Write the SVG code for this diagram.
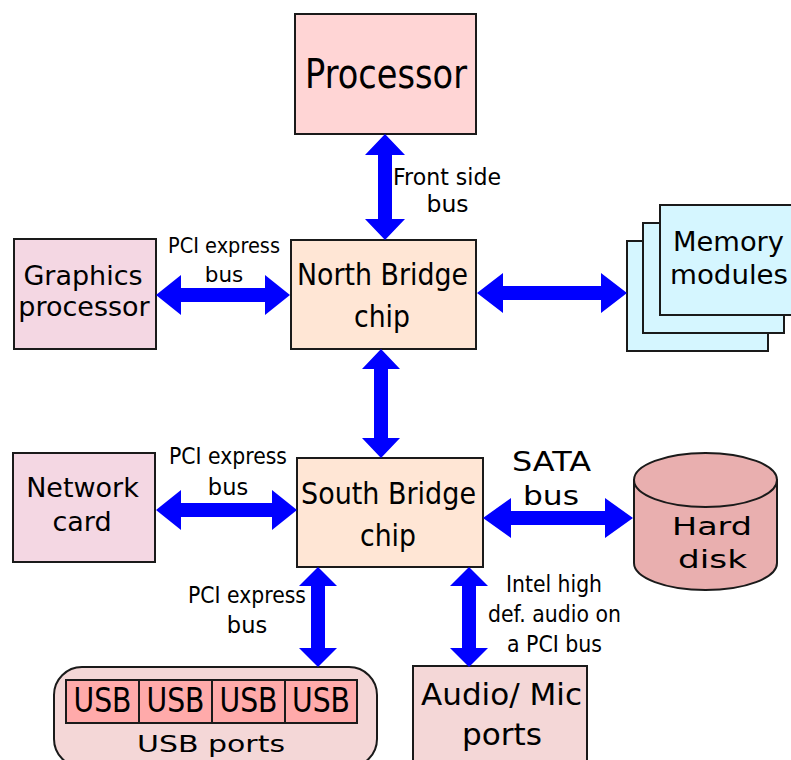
<svg xmlns="http://www.w3.org/2000/svg" width="791" height="760" viewBox="0 0 791 760">
<style>
.box{stroke:#1a1a1a;stroke-width:2}
.c{font-family:"DejaVu Sans",sans-serif;text-anchor:middle;fill:#000}
.arr{fill:#0000ff;stroke:none}
</style>
<rect width="791" height="760" fill="#fff"/>
<g id="processor">
<rect class="box" x="295" y="14" width="181" height="120" fill="#ffd5d5"/>
<text class="c" x="386" y="88" font-size="41" textLength="162" lengthAdjust="spacingAndGlyphs">Processor</text>
</g>
<g id="northbridge">
<rect class="box" x="291" y="240" width="185" height="109" fill="#ffe6d5"/>
<text class="c" x="382.5" y="285" font-size="31" textLength="171" lengthAdjust="spacingAndGlyphs">North Bridge</text>
<text class="c" x="382" y="327" font-size="31" textLength="56" lengthAdjust="spacingAndGlyphs">chip</text>
</g>
<g id="graphics">
<rect class="box" x="14" y="239" width="142" height="110" fill="#f4d7e3"/>
<text class="c" x="83" y="285" font-size="27">Graphics</text>
<text class="c" x="84" y="316" font-size="27">processor</text>
</g>
<g id="memory">
<rect class="box" x="627" y="241" width="141" height="110" fill="#d5f6ff"/>
<rect class="box" x="643" y="223" width="141" height="110" fill="#d5f6ff"/>
<rect class="box" x="660" y="205" width="140" height="110" fill="#d5f6ff"/>
<text class="c" x="728.5" y="251" font-size="26" textLength="111" lengthAdjust="spacingAndGlyphs">Memory</text>
<text class="c" x="729" y="284" font-size="26" textLength="118" lengthAdjust="spacingAndGlyphs">modules</text>
</g>
<g id="southbridge">
<rect class="box" x="297" y="458" width="186" height="109" fill="#ffe6d5"/>
<text class="c" x="388.5" y="504" font-size="31" textLength="175" lengthAdjust="spacingAndGlyphs">South Bridge</text>
<text class="c" x="388" y="546" font-size="31" textLength="56" lengthAdjust="spacingAndGlyphs">chip</text>
</g>
<g id="network">
<rect class="box" x="13" y="453" width="142" height="109" fill="#f4d7e3"/>
<text class="c" x="82.5" y="497" font-size="27">Network</text>
<text class="c" x="82" y="531" font-size="27">card</text>
</g>
<g id="harddisk">
<path class="box" d="M634,480 L634,563 A71.5,27 0 0 0 777,563 L777,480 Z" fill="#e9afaf" stroke-width="2.5"/>
<ellipse class="box" cx="705.5" cy="480" rx="71.5" ry="27" fill="#e9afaf" stroke-width="2.5"/>
<text class="c" x="712" y="535" font-size="25" textLength="80" lengthAdjust="spacingAndGlyphs">Hard</text>
<text class="c" x="712.5" y="568" font-size="25" textLength="69" lengthAdjust="spacingAndGlyphs">disk</text>
</g>
<g id="usbports">
<rect class="box" x="54" y="667" width="323" height="100" rx="28" fill="#f4d7d7"/>
<rect class="box" x="66" y="680" width="73" height="43" fill="#ffaaaa"/>
<rect class="box" x="139" y="680" width="73" height="43" fill="#ffaaaa"/>
<rect class="box" x="212" y="680" width="73" height="43" fill="#ffaaaa"/>
<rect class="box" x="285" y="680" width="72" height="43" fill="#ffaaaa"/>
<text class="c" x="102.5" y="712" font-size="33" textLength="58" lengthAdjust="spacingAndGlyphs">USB</text>
<text class="c" x="175.5" y="712" font-size="33" textLength="58" lengthAdjust="spacingAndGlyphs">USB</text>
<text class="c" x="248.5" y="712" font-size="33" textLength="58" lengthAdjust="spacingAndGlyphs">USB</text>
<text class="c" x="321" y="712" font-size="33" textLength="58" lengthAdjust="spacingAndGlyphs">USB</text>
<text class="c" x="211" y="752" font-size="23" textLength="148" lengthAdjust="spacingAndGlyphs">USB ports</text>
</g>
<g id="audio">
<rect class="box" x="413" y="666" width="174" height="100" fill="#f4d7d7"/>
<text class="c" x="501.5" y="705" font-size="30" textLength="161" lengthAdjust="spacingAndGlyphs">Audio/ Mic</text>
<text class="c" x="502" y="745" font-size="30" textLength="80" lengthAdjust="spacingAndGlyphs">ports</text>
</g>
<g id="connectors">
<path class="arr" d="M385,134 L405,155 L392,155 L392,219 L405,219 L385,240 L365,219 L378,219 L378,155 L365,155 Z"/>
<path class="arr" d="M156,295 L181,275 L181,288 L265,288 L265,275 L290,295 L265,315 L265,302 L181,302 L181,315 Z"/>
<path class="arr" d="M477,293 L503,273 L503,286 L601,286 L601,273 L627,293 L601,313 L601,300 L503,300 L503,313 Z"/>
<path class="arr" d="M381,349 L400,369 L388,369 L388,438 L400,438 L381,458 L362,438 L374,438 L374,369 L362,369 Z"/>
<path class="arr" d="M156,510 L181,490 L181,503 L272,503 L272,490 L297,510 L272,530 L272,517 L181,517 L181,530 Z"/>
<path class="arr" d="M483,518 L511,498 L511,511 L605,511 L605,498 L633,518 L605,538 L605,525 L511,525 L511,538 Z"/>
<path class="arr" d="M318,567 L337,586 L325,586 L325,648 L337,648 L318,667 L299,648 L311,648 L311,586 L299,586 Z"/>
<path class="arr" d="M469,567 L488,586 L476,586 L476,648 L488,648 L469,667 L450,648 L462,648 L462,586 L450,586 Z"/>
</g>
<g id="labels">
<text class="c" x="447" y="185" font-size="23.5" textLength="108" lengthAdjust="spacingAndGlyphs">Front side</text>
<text class="c" x="447.5" y="212" font-size="23.5">bus</text>
<text class="c" x="224" y="253" font-size="21.5" textLength="112" lengthAdjust="spacingAndGlyphs">PCI express</text>
<text class="c" x="224" y="282" font-size="21.5">bus</text>
<text class="c" x="228" y="464" font-size="22.5" textLength="118" lengthAdjust="spacingAndGlyphs">PCI express</text>
<text class="c" x="228" y="495" font-size="22.5">bus</text>
<text class="c" x="551.5" y="471" font-size="26" textLength="79" lengthAdjust="spacingAndGlyphs">SATA</text>
<text class="c" x="551" y="505" font-size="26" textLength="56" lengthAdjust="spacingAndGlyphs">bus</text>
<text class="c" x="247" y="603" font-size="22.5" textLength="118" lengthAdjust="spacingAndGlyphs">PCI express</text>
<text class="c" x="247" y="633" font-size="22.5">bus</text>
<text class="c" x="554" y="592" font-size="23" textLength="96" lengthAdjust="spacingAndGlyphs">Intel high</text>
<text class="c" x="554.5" y="622" font-size="23" textLength="133" lengthAdjust="spacingAndGlyphs">def. audio on</text>
<text class="c" x="554.5" y="652" font-size="23" textLength="95" lengthAdjust="spacingAndGlyphs">a PCI bus</text>
</g>
</svg>
